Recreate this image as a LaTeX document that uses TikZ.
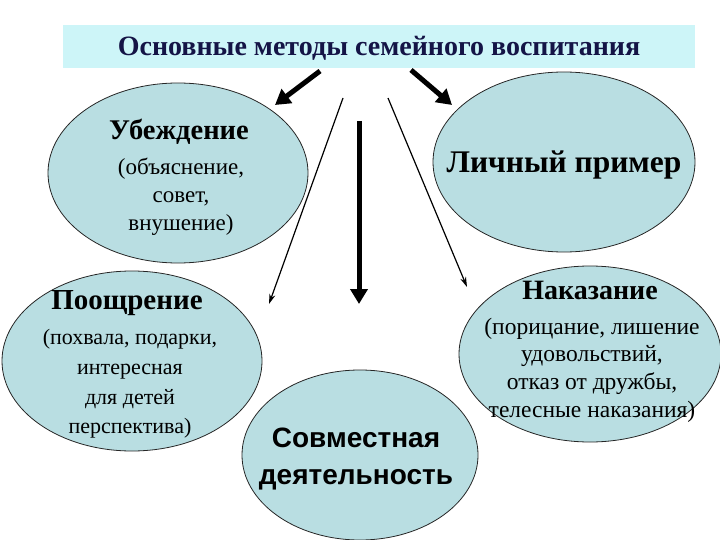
\documentclass[tikz,border=0pt]{standalone}
\usepackage{fontspec}
\setmainfont{Liberation Serif}
\newfontfamily\sansbold{Liberation Sans}
\usetikzlibrary{shapes.geometric,arrows.meta}
\definecolor{ellfill}{RGB}{185,222,226}
\definecolor{banner}{RGB}{205,245,248}
\definecolor{titlecol}{RGB}{20,20,70}
\tikzset{
  oval/.style={ellipse, draw=black!85, line width=0.8pt, fill=ellfill, inner sep=0pt},
  head/.style={font=\fontsize{#1}{#1}\selectfont\bfseries, inner sep=0pt, anchor=center},
  sub/.style={align=center, inner sep=0pt, anchor=center},
  thick arrow/.style={line width=5pt, -{Triangle[length=15pt,width=17pt]}},
  thin arrow/.style={line width=1.2pt, -{Stealth[length=10pt,width=6pt]}}
}
\begin{document}
\begin{tikzpicture}[x=1pt,y=-1pt]
\useasboundingbox (0,0) rectangle (720,540);
% title banner
\node[fill=banner, minimum width=632pt, minimum height=43pt, inner sep=0pt] (banner) at (379,46.5) {};
\node[font=\fontsize{28}{28}\selectfont\bfseries, text=titlecol, inner sep=0pt] (title) at (379,48) {Основные методы семейного воспитания};
% ellipses
\node[oval, minimum width=260pt, minimum height=180pt] (ub) at (178,173) {};
\node[oval, minimum width=262pt, minimum height=180pt] (lp) at (564,162) {};
\node[oval, minimum width=260pt, minimum height=180pt] (po) at (132,361) {};
\node[oval, minimum width=262pt, minimum height=176pt] (na) at (590,354) {};
\node[oval, minimum width=236pt, minimum height=170pt] (sd) at (360,455) {};
% texts
\node[head=28.5] (ubh) at (179,132) {Убеждение};
\node[sub, font=\fontsize{23}{28}\selectfont] (ubs) at (181,197) {(объяснение,\\совет,\\внушение)};
\node[head=31.5] (lph) at (564,165) {Личный пример};
\node[head=29] (poh) at (127,303) {Поощрение};
\node[sub, font=\fontsize{22}{29.7}\selectfont] (pos) at (130,384) {(похвала, подарки,\\интересная\\для детей\\перспектива)};
\node[head=28] (nah) at (590,290) {Наказание};
\node[sub, font=\fontsize{23.5}{27.7}\selectfont] (nas) at (592,370) {(порицание, лишение\\удовольствий,\\отказ от дружбы,\\телесные наказания)};
\node[font=\fontsize{28}{37}\selectfont\sansbold\bfseries, align=center, inner sep=0pt] (sdt) at (356,459) {Совместная\\деятельность};
% arrows
\coordinate (a1s) at (320,71);  \coordinate (a1e) at (275,105);
\coordinate (a2s) at (411,70);  \coordinate (a2e) at (452,105);
\coordinate (a3s) at (359,121); \coordinate (a3e) at (359,304);
\coordinate (a4s) at (343,98);  \coordinate (a4e) at (269,304);
\coordinate (a5s) at (388,98);  \coordinate (a5e) at (467,287);
\draw[thick arrow] (a1s) -- (a1e);
\draw[thick arrow] (a2s) -- (a2e);
\draw[thick arrow] (a3s) -- (a3e);
\draw[thin arrow] (a4s) -- (a4e);
\draw[thin arrow] (a5s) -- (a5e);
\end{tikzpicture}
\end{document}
